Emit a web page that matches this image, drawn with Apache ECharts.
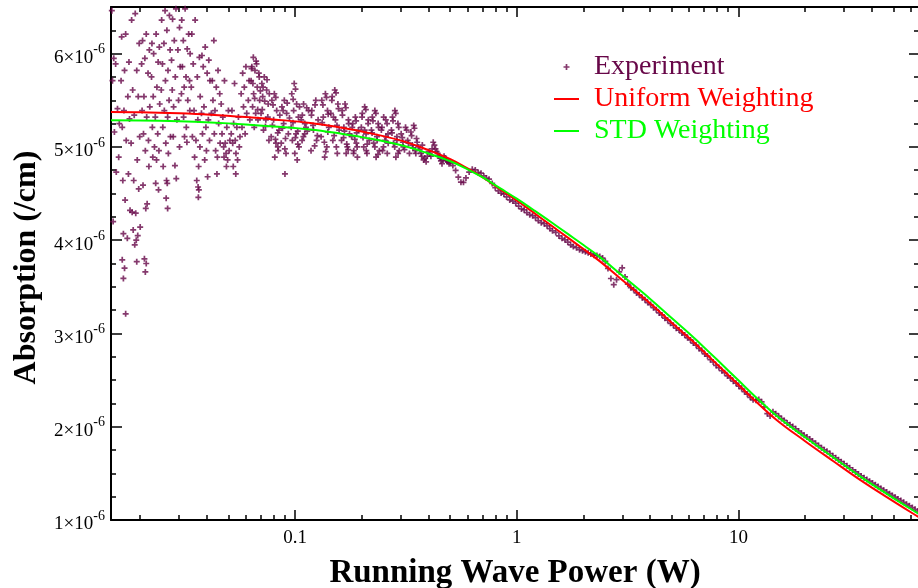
<!DOCTYPE html>
<html>
<head>
<meta charset="utf-8">
<script src="https://cdn.jsdelivr.net/npm/echarts@6/dist/echarts.min.js"></script>
<style>
html,body{margin:0;padding:0;background:#fff;}
#chart{width:918px;height:588px;}
</style>
</head>
<body>
<div id="chart"></div>
<script>
// Absorption values are in units of 1e-6 /cm ; power in W
const xMinPower = 0.01477;
const xMaxPower = 65.3;
const yMin = 1, yMax = 6.5;

const xMajorTicks = [0.1, 1, 10];
const xMinorTicks = [0.02,0.03,0.04,0.05,0.06,0.07,0.08,0.09,0.2,0.3,0.4,0.5,0.6,0.7,0.8,0.9,2,3,4,5,6,7,8,9,20,30,40,50,60];
const yMajorTicks = [1,2,3,4,5,6];
const yMinorTicks = [1.25,1.5,1.75,2.25,2.5,2.75,3.25,3.5,3.75,4.25,4.5,4.75,5.25,5.5,5.75,6.25];

// scattered low-power measurements [power, absorption]
const expCloud = [
[0.0149,6.46],[0.0152,5.95],[0.0155,5.89],[0.0150,5.71],[0.0158,5.41],[0.0161,5.25],[0.0153,5.16],[0.0156,4.73],[0.0160,4.89],[0.0151,4.2],
[0.0172,6.21],[0.0165,6.18],[0.0178,5.91],[0.0170,5.82],[0.0164,5.71],[0.0176,5.54],[0.0169,5.39],[0.0179,5.30],[0.0166,5.21],[0.0173,5.07],[0.0177,4.71],[0.0167,4.64],[0.0171,4.43],[0.0180,4.32],[0.0168,4.07],[0.0175,4.02],[0.0166,3.79],[0.0170,3.70],[0.0168,3.59],[0.0172,3.21],
[0.0190,6.43],[0.0183,6.36],[0.0198,6.11],[0.0193,5.82],[0.0185,5.61],[0.0196,5.54],[0.0188,5.34],[0.0199,5.11],[0.0182,5.04],[0.0194,4.86],[0.0187,4.64],[0.0197,4.55],[0.0184,4.30],[0.0191,4.29],[0.0200,4.14],[0.0186,4.11],[0.0195,4.05],[0.0192,4.00],[0.0189,3.95],[0.0193,3.77],
[0.0213,6.21],[0.0205,6.14],[0.0220,6.04],[0.0210,5.95],[0.0203,5.89],[0.0217,5.79],[0.0208,5.54],[0.0221,5.43],[0.0204,5.39],[0.0214,5.32],[0.0207,5.14],[0.0218,5.07],[0.0211,4.96],[0.0219,4.79],[0.0206,4.59],[0.0215,4.39],[0.0212,4.34],[0.0209,3.80],[0.0213,3.75],[0.0211,3.66],
[0.0236,6.21],[0.0226,6.11],[0.0244,6.07],[0.0230,6.00],[0.0241,5.91],[0.0225,5.75],[0.0238,5.64],[0.0229,5.54],[0.0245,5.46],[0.0234,5.32],[0.0227,5.21],[0.0240,5.14],[0.0232,5.00],[0.0243,4.96],[0.0228,4.89],[0.0237,4.86],[0.0235,4.61],[0.0242,4.54],
[0.0259,6.46],[0.0271,6.41],[0.0250,6.36],[0.0264,6.25],[0.0256,6.11],[0.0273,6.04],[0.0252,5.89],[0.0267,5.82],[0.0260,5.71],[0.0249,5.61],[0.0270,5.50],[0.0257,5.39],[0.0266,5.32],[0.0253,5.21],[0.0274,5.11],[0.0261,5.04],[0.0268,4.93],[0.0254,4.79],[0.0263,4.64],[0.0265,4.61],[0.0262,4.45],[0.0266,4.34],
[0.0290,6.48],[0.0280,6.37],[0.0301,6.28],[0.0285,6.14],[0.0296,6.04],[0.0277,5.93],[0.0303,5.86],[0.0288,5.75],[0.0279,5.61],[0.0298,5.50],[0.0283,5.43],[0.0293,5.29],[0.0282,5.11],[0.0301,5.00],[0.0287,4.80],[0.0291,4.66],
[0.0319,6.48],[0.0308,6.36],[0.0331,6.21],[0.0313,6.14],[0.0326,6.05],[0.0336,6.00],[0.0310,5.86],[0.0322,5.75],[0.0334,5.71],[0.0316,5.64],[0.0307,5.57],[0.0328,5.50],[0.0335,5.39],[0.0314,5.32],[0.0323,5.21],[0.0317,5.11],[0.0325,5.05],
[0.0354,6.36],[0.0342,6.21],[0.0370,5.96],[0.0347,5.89],[0.0362,5.75],[0.0340,5.64],[0.0373,5.54],[0.0350,5.39],[0.0364,5.29],[0.0344,5.11],[0.0357,5.07],[0.0372,5.00],[0.0352,4.89],[0.0367,4.79],[0.0360,4.64],[0.0365,4.57],[0.0368,4.54],[0.0366,4.46],
[0.0393,6.07],[0.0380,5.98],[0.0408,5.93],[0.0385,5.86],[0.0401,5.79],[0.0413,5.71],[0.0388,5.43],[0.0378,5.36],[0.0406,5.29],[0.0396,5.21],[0.0382,5.14],[0.0411,5.07],[0.0398,4.96],[0.0391,4.86],[0.0403,4.68],
[0.0430,6.14],[0.0449,5.82],[0.0423,5.71],[0.0441,5.64],[0.0457,5.57],[0.0426,5.50],[0.0435,5.39],[0.0419,5.36],[0.0452,5.25],[0.0432,5.14],[0.0459,5.04],[0.0438,4.96],[0.0446,4.89],[0.0444,4.71],
[0.0480,5.71],[0.0464,5.46],[0.0500,5.39],[0.0472,5.32],[0.0492,5.21],[0.0468,5.14],[0.0508,5.07],[0.0484,5.04],[0.0476,5.00],[0.0504,4.96],[0.0488,4.93],[0.0478,4.89],[0.0496,4.86],[0.0490,4.79],
[0.0533,5.68],[0.0519,5.39],[0.0555,5.32],[0.0528,5.25],[0.0546,5.21],[0.0515,5.14],[0.0564,5.11],[0.0537,5.07],[0.0523,5.04],[0.0560,5.00],[0.0541,4.93],[0.0550,4.86],[0.0526,4.79],[0.0540,4.71],
[0.0600,5.86],[0.0580,5.79],[0.0620,5.71],[0.0590,5.64],[0.0571,5.57],[0.0615,5.50],[0.0585,5.43],[0.0605,5.36],[0.0625,5.29],[0.0576,5.21],[0.0595,5.14],
[0.0648,5.96],[0.0670,5.89],[0.0638,5.86],[0.0659,5.82],[0.0686,5.79],[0.0633,5.71],[0.0675,5.64],[0.0650,5.57],[0.0692,5.50],[0.0643,5.43],[0.0664,5.36],[0.0680,5.29],[0.0654,5.21],
[0.0726,5.75],[0.0708,5.68],[0.0744,5.61],[0.0714,5.54],[0.0756,5.46],[0.0702,5.36],[0.0738,5.29],[0.0720,5.18],[0.0762,5.07],
[0.0806,5.57],[0.0786,5.50],[0.0826,5.39],[0.0800,5.29],[0.0846,5.18],[0.0780,5.11],[0.0820,5.04],[0.0840,4.96],[0.0810,4.89],
[0.0894,5.50],[0.0872,5.43],[0.0916,5.36],[0.0888,5.25],[0.0932,5.14],[0.0866,5.04],[0.0910,4.93],[0.0900,4.71],
[0.0991,5.68],[0.0966,5.57],[0.1016,5.46],[0.0985,5.39],[0.1035,5.32],[0.0960,5.21],[0.1010,5.14],[0.0972,5.07],[0.1041,5.00],[0.0997,4.93],[0.1022,4.86],
[0.1092,5.46],[0.1150,5.39],[0.1065,5.29],[0.1120,5.21],[0.1105,5.14],[0.1075,5.07],
[0.124,5.50],[0.119,5.39],[0.127,5.29],[0.121,5.18],[0.125,5.07],[0.118,4.96],
[0.137,5.57],[0.132,5.50],[0.140,5.39],[0.134,5.32],[0.142,5.21],[0.131,5.11],[0.139,5.00],[0.136,4.89],
[0.151,5.61],[0.147,5.54],[0.156,5.46],[0.145,5.36],[0.152,5.29],[0.158,5.18],[0.148,5.07],[0.155,4.93],
[0.168,5.46],[0.163,5.39],[0.174,5.29],[0.166,5.21],[0.176,5.14],[0.162,5.07],[0.172,5.00],[0.170,4.93],
[0.187,5.32],[0.182,5.25],[0.193,5.18],[0.180,5.11],[0.189,5.04],[0.184,4.96],[0.191,4.89],
[0.206,5.43],[0.201,5.36],[0.214,5.29],[0.199,5.21],[0.209,5.14],[0.216,5.07],[0.204,5.00],[0.211,4.93],
[0.229,5.39],[0.223,5.32],[0.237,5.25],[0.221,5.18],[0.234,5.11],[0.226,5.04],[0.240,4.96],[0.232,4.89],
[0.251,5.32],[0.260,5.25],[0.245,5.18],[0.257,5.11],[0.263,5.04],[0.248,4.96],
[0.282,5.39],[0.275,5.32],[0.291,5.25],[0.272,5.18],[0.288,5.11],[0.278,5.04],[0.295,4.96],[0.285,4.89],
[0.315,5.21],[0.301,5.14],[0.322,5.07],[0.308,5.00],[0.328,4.93],
[0.343,5.23],[0.333,5.16],[0.353,5.09],[0.338,5.02],[0.348,4.96],
[0.36,5.00],[0.37,4.93],[0.38,4.86],[0.39,4.84],[0.375,5.02],
[0.40,4.95],[0.41,4.90],[0.42,5.05],[0.43,4.98],[0.44,4.93],[0.45,4.88],[0.46,4.82],[0.47,4.90],[0.48,4.86],[0.49,4.84]
];

// further measurements inside the oscillating 0.06–0.5 W clusters
const expClusters = [
[0.0667,5.92],[0.0636,5.84],[0.0689,5.75],[0.0645,5.68],[0.0697,5.60],[0.0657,5.52],[0.0678,5.40],
[0.0747,5.72],[0.0717,5.64],[0.0765,5.57],[0.0729,5.49],[0.0711,5.40],[0.0753,5.32],[0.0735,5.22],
[0.0818,5.53],[0.0795,5.45],[0.0853,5.34],[0.0790,5.23],[0.0835,5.15],[0.0815,5.08],[0.0836,5.00],
[0.0921,5.47],[0.0883,5.39],[0.0943,5.31],[0.0877,5.20],[0.0905,5.09],[0.0899,4.98],
[0.1004,5.62],[0.0980,5.51],[0.1047,5.43],[0.0978,5.26],[0.1028,5.17],[0.1003,5.10],[0.1029,5.03],
[0.1128,5.42],[0.1078,5.34],[0.1106,5.25],[0.1135,5.17],[0.1090,5.11],
[0.123,5.45],[0.1185,5.34],[0.1205,5.23],[0.126,5.12],[0.1225,5.01],
[0.1385,5.53],[0.1335,5.45],[0.141,5.35],[0.1325,5.26],[0.1405,5.16],[0.1355,5.05],[0.1375,4.95],
[0.153,5.58],[0.1465,5.50],[0.157,5.41],[0.149,5.32],[0.1545,5.23],[0.150,5.12],[0.1535,5.00],
[0.1695,5.42],[0.1635,5.34],[0.1745,5.25],[0.167,5.17],[0.1655,5.10],[0.171,5.03],[0.1735,4.97],
[0.1885,5.28],[0.181,5.21],[0.1895,5.15],[0.186,5.08],[0.1905,5.00],[0.1835,4.93],
[0.2085,5.40],[0.2005,5.32],[0.2135,5.25],[0.206,5.18],[0.2025,5.10],[0.2115,5.03],[0.2095,4.96],
[0.2315,5.36],[0.2245,5.28],[0.238,5.21],[0.2225,5.15],[0.2345,5.07],[0.229,5.00],[0.2365,4.92],
[0.2565,5.29],[0.2465,5.21],[0.2625,5.14],[0.254,5.07],[0.2505,5.00],[0.2605,4.93],
[0.2845,5.36],[0.2765,5.28],[0.2935,5.21],[0.2735,5.15],[0.288,5.07],[0.2815,5.00],[0.2915,4.93],
[0.3185,5.18],[0.3045,5.10],[0.3245,5.04],[0.3115,4.97],[0.3065,5.05],
[0.3455,5.20],[0.3355,5.12],[0.3555,5.05],[0.3405,4.99],[0.3505,4.93],
[0.365,4.97],[0.3725,4.90],[0.385,4.88],[0.395,4.90],[0.405,4.93],[0.415,4.98],[0.425,5.02],[0.435,4.95],[0.445,4.90],[0.455,4.85],[0.465,4.86],[0.475,4.88],[0.485,4.85],[0.495,4.82]
];

// dense high-power measurements
const bandPower = [0.50,0.515,0.53,0.545,0.56,0.575,0.59,0.61,0.63,0.65,0.67,0.69,0.71,0.73,0.75,0.775,0.80,0.825,0.85,0.875,0.90,0.93,0.96,0.99,
1.02,1.05,1.08,1.11,1.145,1.18,1.215,1.25,1.29,1.33,1.37,1.41,1.45,1.50,1.55,1.60,1.65,1.70,1.75,1.80,1.86,1.92,1.98,2.04,2.10,2.16,2.23,2.30,2.37,2.44,2.51,2.58,2.66,2.74,2.82,2.90,2.99,
3.08,3.17,3.27,3.37,3.47,3.57,3.68,3.79,3.90,4.02,4.14,4.26,4.39,4.52,4.66,4.80,4.94,5.09,5.24,5.40,5.56,5.73,5.90,6.08,6.26,6.45,6.64,6.84,7.05,7.26,7.48,7.70,7.93,8.17,8.42,8.67,8.93,9.2,9.48,9.76,
10.05,10.35,10.66,10.98,11.31,11.65,12.0,12.36,12.73,13.11,13.5,13.9,14.32,14.75,15.2,15.65,16.1,16.6,17.1,17.6,18.15,18.7,19.25,19.8,20.4,21.0,21.6,22.3,23.0,23.7,24.4,25.1,25.9,26.7,27.5,28.3,29.1,
30.0,30.9,31.8,32.8,33.8,34.8,35.8,36.9,38.0,39.1,40.3,41.5,42.7,44.0,45.3,46.7,48.1,49.5,51.0,52.5,54.1,55.7,57.4,59.1,60.9,62.7,64.6,66.5];
const bandAbs = [4.835,4.80,4.748,4.675,4.622,4.62,4.668,4.73,4.76,4.753,4.726,4.718,4.689,4.666,4.654,4.608,4.563,4.528,4.505,4.494,4.464,4.431,4.419,4.397,
4.366,4.335,4.325,4.296,4.274,4.262,4.241,4.21,4.188,4.176,4.154,4.124,4.101,4.083,4.046,4.02,4.004,3.98,3.95,3.931,3.919,3.898,3.887,3.875,3.864,3.853,3.839,3.836,3.824,3.808,3.772,3.697,3.589,3.523,3.576,3.661,3.704,
3.606,3.53,3.49,3.47,3.435,3.415,3.383,3.362,3.331,3.31,3.276,3.255,3.22,3.199,3.164,3.142,3.109,3.088,3.057,3.036,3.005,2.984,2.953,2.931,2.897,2.874,2.839,2.816,2.781,2.756,2.718,2.694,2.657,2.634,2.60,2.579,2.545,2.523,2.488,2.467,
2.435,2.409,2.375,2.349,2.315,2.289,2.285,2.291,2.267,2.213,2.14,2.115,2.16,2.14,2.113,2.088,2.068,2.041,2.02,2.002,1.978,1.954,1.931,1.908,1.89,1.868,1.846,1.822,1.798,1.775,1.753,1.736,1.712,1.689,1.667,1.646,1.625,
1.603,1.581,1.56,1.537,1.515,1.493,1.473,1.453,1.434,1.416,1.396,1.377,1.358,1.339,1.32,1.30,1.282,1.264,1.245,1.226,1.208,1.189,1.17,1.152,1.133,1.114,1.096,1.078];

// fitted curves
const fitPower = [0.01477,0.02,0.03,0.04155,0.06,0.08,0.1173,0.16,0.2,0.2986,0.4,0.502,0.6,0.7,0.8435,1.0,1.2,1.417,1.7,2.0,2.382,3.0,4.0,5.0,6.0,6.727,8.0,10,11.7,14.92,20.01,26.84,35.42,46.72,64.67,65.3];
const uniformFit = [5.375,5.372,5.360,5.345,5.320,5.295,5.257,5.208,5.165,5.07,4.965,4.868,4.77,4.675,4.545,4.425,4.29,4.165,4.027,3.905,3.77,3.57,3.32,3.115,2.95,2.84,2.67,2.45,2.295,2.07,1.845,1.63,1.43,1.245,1.035,1.03];
const stdFit = [5.286,5.284,5.275,5.262,5.241,5.22,5.187,5.143,5.105,5.02,4.929,4.846,4.76,4.675,4.555,4.445,4.318,4.20,4.067,3.948,3.816,3.618,3.37,3.165,3.00,2.89,2.72,2.498,2.341,2.114,1.887,1.67,1.468,1.281,1.07,1.065];

const FONT = "'Liberation Serif','Times New Roman',Times,serif";
const lg = Math.log10;

const expData = expCloud.concat(expClusters).map(d => [lg(d[0]), d[1]])
  .concat(bandPower.map((p, i) => [lg(p), bandAbs[i]]));
const uniData = fitPower.map((p, i) => [lg(p), uniformFit[i]]);
const stdData = fitPower.map((p, i) => [lg(p), stdFit[i]]);

const xMin = lg(xMinPower), xMax = lg(xMaxPower);
const fmtPow = v => String(Math.round(Math.pow(10, v) * 1000) / 1000);

function xAxisDef(pos, values, len, labels, line, name) {
  const a = {
    type: 'value', position: pos, min: xMin, max: xMax, gridIndex: 0,
    splitLine: {show: false},
    axisLine: {show: line, onZero: false, lineStyle: {color: '#000', width: 2}},
    axisTick: {show: true, inside: true, length: len, customValues: values.map(lg), lineStyle: {color: '#000', width: 1.5}},
    axisLabel: labels ? {show: true, customValues: values.map(lg), formatter: fmtPow, fontFamily: FONT, fontSize: 19, color: '#000', margin: 9} : {show: false}
  };
  if (name) {
    a.name = name; a.nameLocation = 'middle'; a.nameGap = 37;
    a.nameTextStyle = {fontFamily: FONT, fontSize: 33, fontWeight: 'bold', color: '#000'};
  }
  return a;
}
function yAxisDef(pos, values, len, labels, line, name) {
  const a = {
    type: 'value', position: pos, min: yMin, max: yMax, gridIndex: 0,
    splitLine: {show: false},
    axisLine: {show: line, onZero: false, lineStyle: {color: '#000', width: 2}},
    axisTick: {show: true, inside: true, length: len, customValues: values, lineStyle: {color: '#000', width: 1.5}},
    axisLabel: labels ? {
      show: true, customValues: values, margin: 6,
      formatter: v => '{b|' + v + '×10}{s|-6}',
      rich: {
        b: {fontFamily: FONT, fontSize: 19, lineHeight: 19, color: '#000', padding: [9, 0, 0, 0]},
        s: {fontFamily: FONT, fontSize: 14, lineHeight: 14, color: '#000', padding: [3, 0, 11, 0]}
      }
    } : {show: false}
  };
  if (name) {
    a.name = name; a.nameLocation = 'middle'; a.nameGap = 52; a.nameRotate = 90;
    a.nameTextStyle = {fontFamily: FONT, fontSize: 32, fontWeight: 'bold', color: '#000', padding: [0, 8, 0, 0]};
  }
  return a;
}

const hiddenDot = {opacity: 0};

const option = {
  animation: false,
  backgroundColor: '#fff',
  grid: {left: 111, right: -1, top: 7, bottom: 68, containLabel: false, outerBoundsMode: 'none'},
  xAxis: [
    xAxisDef('bottom', xMajorTicks, 10, true, true, 'Running Wave Power (W)'),
    xAxisDef('bottom', xMinorTicks, 5, false, false),
    xAxisDef('top', xMajorTicks, 10, false, true),
    xAxisDef('top', xMinorTicks, 5, false, false)
  ],
  yAxis: [
    yAxisDef('left', yMajorTicks, 11, true, true, 'Absorption (/cm)'),
    yAxisDef('left', yMinorTicks, 5, false, false),
    yAxisDef('right', yMajorTicks, 10, false, false),
    yAxisDef('right', yMinorTicks, 5, false, false)
  ],
  legend: {
    orient: 'vertical', left: 548, top: 48, itemWidth: 25, itemHeight: 6, itemGap: 4,
    selectedMode: false,
    textStyle: {fontFamily: FONT, fontSize: 28, padding: [0, 0, 0, 10]},
    data: [
      {name: 'Experiment', textStyle: {color: '#670748'}},
      {name: 'Uniform Weighting', textStyle: {color: '#ff0000'}, itemStyle: hiddenDot},
      {name: 'STD Weighting', textStyle: {color: '#00ff00'}, itemStyle: hiddenDot}
    ]
  },
  series: [
    {
      name: 'Experiment', type: 'scatter', xAxisIndex: 0, yAxisIndex: 0,
      symbol: 'path://M2.5,0H4.5V2.5H7V4.5H4.5V7H2.5V4.5H0V2.5H2.5Z', symbolSize: 6,
      itemStyle: {color: '#670748'}, data: expData, clip: true
    },
    {
      name: 'Uniform Weighting', type: 'line', xAxisIndex: 0, yAxisIndex: 0,
      symbol: 'none', smooth: 0.4, lineStyle: {color: '#ff0000', width: 2}, itemStyle: {color: '#ff0000'},
      data: uniData
    },
    {
      name: 'STD Weighting', type: 'line', xAxisIndex: 0, yAxisIndex: 0,
      symbol: 'none', smooth: 0.4, lineStyle: {color: '#00ff00', width: 2}, itemStyle: {color: '#00ff00'},
      data: stdData
    }
  ]
};

const chart = echarts.init(document.getElementById('chart'), null, {renderer: 'canvas'});
chart.setOption(option);
</script>
</body>
</html>
